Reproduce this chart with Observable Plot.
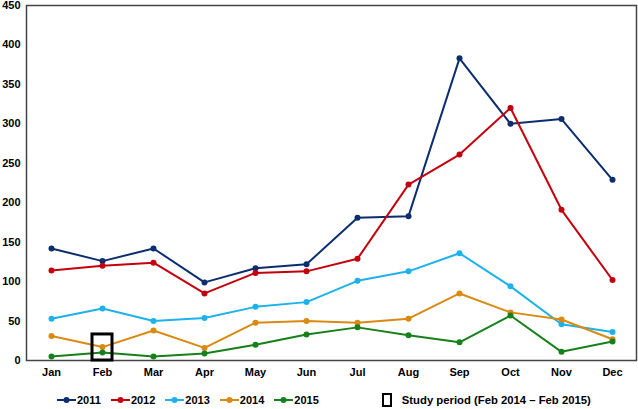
<!DOCTYPE html>
<html><head><meta charset="utf-8">
<script src="https://cdn.jsdelivr.net/npm/d3@7"></script>
<script src="https://cdn.jsdelivr.net/npm/@observablehq/plot@0.6"></script>
<style>
body{margin:0;background:#fff;font-family:"Liberation Sans",Arial,sans-serif;font-weight:bold;}
#chart svg{display:block;}
#legend{display:flex;align-items:center;height:24px;font-size:11px;padding-left:57px;padding-top:3px;color:#000;}
.item{display:flex;align-items:center;margin-right:10px;}
.item svg{display:block;margin-right:1px;}
.study{display:flex;align-items:center;margin-left:53px;font-size:11.3px;}
.box{width:6px;height:10px;border:2px solid #000;margin-right:10px;}
</style></head><body>
<div id="chart"></div>
<div id="legend"></div>
<script>
const months = ["Jan","Feb","Mar","Apr","May","Jun","Jul","Aug","Sep","Oct","Nov","Dec"];
const years = ["2011","2012","2013","2014","2015"];
const v2011 = [142,126,142,99,117,122,181,183,383,300,306,229];
const v2012 = [114,120,124,85,111,113,129,223,261,320,191,102];
const v2013 = [53,66,50,54,68,74,101,113,136,94,46,36];
const v2014 = [31,17,38,16,48,50,48,53,85,61,52,27];
const v2015 = [5,10,5,9,20,33,42,32,23,57,11,24];
const colors = ["#0c2d6e","#c4000c","#1db2ea","#d98a12","#17801a"];
const yTicks = [0,50,100,150,200,250,300,350,400,450];
const studyMonth = ["Feb"];
const studyRange = [0, 33];
const studyLabel = "Study period (Feb 2014 \u2013 Feb 2015)";

const series = [v2011, v2012, v2013, v2014, v2015];
const data = [];
series.forEach((vals, s) => vals.forEach((v, i) => data.push({year: years[s], month: months[i], value: v})));
const studyData = studyMonth.map(m => ({month: m, y1: studyRange[0], y2: studyRange[1]}));

const chart = Plot.plot({
  width: 638, height: 385,
  marginLeft: 26, marginRight: 2, marginTop: 5, marginBottom: 25,
  style: {fontFamily: '"Liberation Sans", Arial, sans-serif', fontSize: "11px", fontWeight: "bold", color: "#000", background: "#fff"},
  x: {type: "point", domain: months, padding: 0.47, label: null, tickSize: 0, tickPadding: 8},
  y: {domain: [0, 450], ticks: yTicks, label: null, tickSize: 0, tickPadding: 6},
  color: {domain: years, range: colors},
  marks: [
    Plot.frame({stroke: "#444", strokeWidth: 1.5}),
    Plot.line(data, {x: "month", y: "value", z: "year", stroke: "year", strokeWidth: 2}),
    Plot.dot(data, {x: "month", y: "value", fill: "year", r: 3}),
    Plot.rect(studyData, {x1: "month", x2: "month", y1: "y1", y2: "y2", insetLeft: -10, insetRight: -10, fill: "none", stroke: "#000", strokeWidth: 3})
  ]
});
document.getElementById("chart").appendChild(chart);

const legend = document.getElementById("legend");
years.forEach((y, i) => {
  const it = document.createElement("div");
  it.className = "item";
  it.innerHTML = `<svg width="19" height="10"><line x1="0" y1="5" x2="19" y2="5" stroke="${colors[i]}" stroke-width="2"/><circle cx="9.5" cy="5" r="3" fill="${colors[i]}"/></svg><span>${y}</span>`;
  legend.appendChild(it);
});
const st = document.createElement("div");
st.className = "study";
st.innerHTML = `<div class="box"></div><span>${studyLabel}</span>`;
legend.appendChild(st);
</script>
</body></html>
